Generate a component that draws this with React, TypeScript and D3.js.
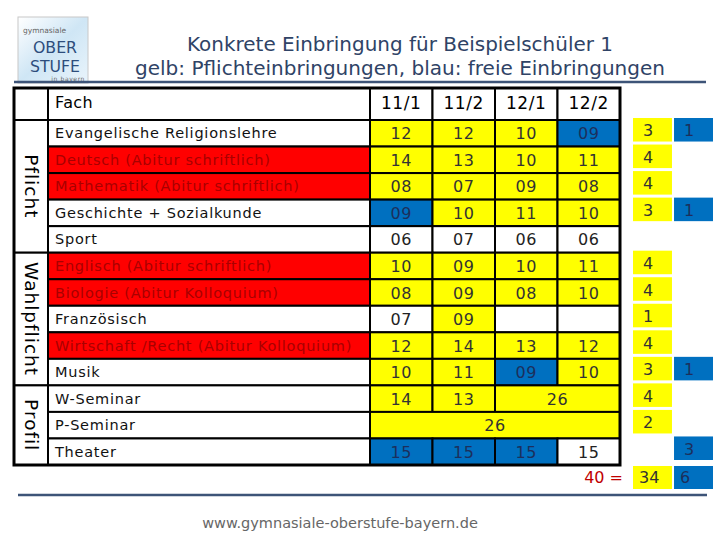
import React from "react";
import * as d3 from "d3";

// table data
const terms = ["11/1", "11/2", "12/1", "12/2"];
const subjects = [
  "Evangelische Religionslehre",
  "Deutsch (Abitur schriftlich)",
  "Mathematik (Abitur schriftlich)",
  "Geschichte + Sozialkunde",
  "Sport",
  "Englisch (Abitur schriftlich)",
  "Biologie (Abitur Kolloquium)",
  "Französisch",
  "Wirtschaft /Recht (Abitur Kolloquium)",
  "Musik",
  "W-Seminar",
  "P-Seminar",
  "Theater",
];
const groupNames = ["Pflicht", "Wahlpflicht", "Profil"];
const groupSizes = [5, 5, 3];
const abitur = [0, 1, 1, 0, 0, 1, 1, 0, 1, 0, 0, 0, 0];
const points = [
  ["12", "12", "10", "09"],
  ["14", "13", "10", "11"],
  ["08", "07", "09", "08"],
  ["09", "10", "11", "10"],
  ["06", "07", "06", "06"],
  ["10", "09", "10", "11"],
  ["08", "09", "08", "10"],
  ["07", "09", "", ""],
  ["12", "14", "13", "12"],
  ["10", "11", "09", "10"],
  ["14", "13", "26", ""],
  ["26", "", "", ""],
  ["15", "15", "15", "15"],
];
// Y = Pflichteinbringung, B = freie Einbringung, W = nicht eingebracht, - = verbunden mit links
const marks = ["YYYB", "YYYY", "YYYY", "BYYY", "WWWW", "YYYY", "YYYY", "WYWW", "YYYY", "YYBY", "YYY-", "Y---", "BBBW"];
const countYellow = [3, 4, 4, 3, null, 4, 4, 1, 4, 3, 4, 2, null];
const countBlue = [1, null, null, 1, null, null, null, null, null, 1, null, null, 3];
const totalAll = 40;
const totalYellow = 34;
const totalBlue = 6;

const YELLOW = "#ffff00";
const BLUE = "#0070c0";
const RED = "#ff0000";
const FONT = "'DejaVu Sans', Verdana, sans-serif";

export default function App() {
  const W = 720, H = 540;
  const left = 14, groupW = 34, top = 88, headH = 32;
  const rowY = d3.scaleBand<number>().domain(d3.range(subjects.length)).range([top + headH, 465]);
  const colX = d3.scaleBand<string>().domain(terms).range([370, 620]);
  const sideX = d3.scaleBand<string>().domain(["gelb", "blau"]).range([633, 713]).paddingInner(0.05);
  const rh = rowY.bandwidth();
  const cw = colX.bandwidth();

  const fillOf = (k: string) => (k === "Y" ? YELLOW : k === "B" ? BLUE : "#fff");
  const textOf = (k: string) => (k === "B" ? "#1c2f5c" : k === "Y" ? "#333" : "#222");

  const groupStarts = groupSizes.map((_, i) => d3.sum(groupSizes.slice(0, i)));

  return (
    <svg width={W} height={H} style={{ position: "absolute", left: 0, top: 0, background: "#fff" }} fontFamily={FONT}>
      {/* logo */}
      <defs>
        <linearGradient id="lg" x1="0" y1="0" x2="1" y2="1">
          <stop offset="0" stopColor="#ffffff" />
          <stop offset="0.5" stopColor="#cfe6f5" />
          <stop offset="1" stopColor="#e9f4fb" />
        </linearGradient>
      </defs>
      <rect x={18} y={17} width={70} height={66} fill="url(#lg)" stroke="#c8c8c8" />
      <text x={23} y={33} fontSize={7.5} fill="#666">gymnasiale</text>
      <text x={55} y={53} fontSize={16} fill="#2d4d7c" textAnchor="middle" textLength={44} lengthAdjust="spacingAndGlyphs">OBER</text>
      <text x={55} y={72} fontSize={16} fill="#2d4d7c" textAnchor="middle" textLength={50} lengthAdjust="spacingAndGlyphs">STUFE</text>
      <text x={85} y={81} fontSize={6} fill="#666" textAnchor="end" letterSpacing={0.6}>in bayern</text>

      {/* title */}
      <text x={400} y={51} fontSize={19} fill="#2f4366" textAnchor="middle" textLength={426} lengthAdjust="spacingAndGlyphs">Konkrete Einbringung für Beispielschüler 1</text>
      <text x={400} y={75} fontSize={19} fill="#2f4366" textAnchor="middle" textLength={530} lengthAdjust="spacingAndGlyphs">gelb: Pflichteinbringungen, blau: freie Einbringungen</text>
      <line x1={14} x2={706} y1={82} y2={82} stroke="#3d5478" strokeWidth={2.5} />

      {/* header row */}
      <rect x={left} y={top} width={groupW} height={headH} fill="#fff" stroke="#000" strokeWidth={2} />
      <rect x={left + groupW} y={top} width={370 - left - groupW} height={headH} fill="#fff" stroke="#000" strokeWidth={2} />
      <text x={55} y={top + 20} fontSize={16} fill="#000" letterSpacing={0.4}>Fach</text>
      {terms.map((t) => (
        <g key={t}>
          <rect x={colX(t)} y={top} width={cw} height={headH} fill="#fff" stroke="#000" strokeWidth={2} />
          <text x={colX(t)! + cw / 2} y={top + 21} fontSize={17} fill="#000" textAnchor="middle" letterSpacing={0.6}>{t}</text>
        </g>
      ))}

      {/* group labels */}
      {groupNames.map((g, i) => {
        const y0 = rowY(groupStarts[i])!;
        const y1 = rowY(groupStarts[i] + groupSizes[i] - 1)! + rh;
        const cy = (y0 + y1) / 2;
        return (
          <g key={g}>
            <rect x={left} y={y0} width={groupW} height={y1 - y0} fill="#fff" stroke="#000" strokeWidth={2} />
            <text x={left + groupW / 2} y={cy} fontSize={18.5} fill="#000" textAnchor="middle" dominantBaseline="central"
              letterSpacing={1} transform={`rotate(90 ${left + groupW / 2} ${cy})`}>{g}</text>
          </g>
        );
      })}

      {/* rows */}
      {subjects.map((s, r) => {
        const y = rowY(r)!;
        const red = abitur[r] === 1;
        const m = marks[r];
        return (
          <g key={s}>
            <rect x={left + groupW} y={y} width={370 - left - groupW} height={rh} fill={red ? RED : "#fff"} stroke="#000" strokeWidth={2} />
            <text x={55} y={y + rh / 2 + 5} fontSize={14.5} letterSpacing={0.75} fill={red ? "#a80000" : "#111"}>{s}</text>
            {terms.map((t, c) => {
              const k = m[c];
              if (k === "-") return null;
              let span = 1;
              while (m[c + span] === "-") span++;
              const x = colX(t)!;
              const w = cw * span;
              return (
                <g key={t}>
                  <rect x={x} y={y} width={w} height={rh} fill={fillOf(k)} stroke="#000" strokeWidth={2} />
                  {points[r][c] && (
                    <text x={x + w / 2} y={y + rh / 2 + 6} fontSize={16} fill={textOf(k)} textAnchor="middle" letterSpacing={0.5}>{points[r][c]}</text>
                  )}
                </g>
              );
            })}
            {countYellow[r] != null && (
              <g>
                <rect x={sideX("gelb")} y={y - 2} width={sideX.bandwidth()} height={rh - 3} fill={YELLOW} />
                <text x={sideX("gelb")! + 10} y={y + rh / 2 + 3} fontSize={16} fill="#333">{countYellow[r]}</text>
              </g>
            )}
            {countBlue[r] != null && (
              <g>
                <rect x={sideX("blau")} y={y - 2} width={sideX.bandwidth()} height={rh - 3} fill={BLUE} />
                <text x={sideX("blau")! + 10} y={y + rh / 2 + 3} fontSize={16} fill="#1c2f5c">{countBlue[r]}</text>
              </g>
            )}
          </g>
        );
      })}
      <rect x={left} y={top} width={620 - left} height={465 - top} fill="none" stroke="#000" strokeWidth={3} />

      {/* totals */}
      <text x={623} y={483} fontSize={16} fill="#c00000" textAnchor="end">{totalAll} =</text>
      <rect x={sideX("gelb")} y={466} width={sideX.bandwidth()} height={23} fill={YELLOW} />
      <text x={sideX("gelb")! + 6} y={483} fontSize={16} fill="#333">{totalYellow}</text>
      <rect x={sideX("blau")} y={466} width={sideX.bandwidth()} height={23} fill={BLUE} />
      <text x={sideX("blau")! + 6} y={483} fontSize={16} fill="#1c2f5c">{totalBlue}</text>

      {/* footer */}
      <line x1={18} x2={707} y1={495} y2={495} stroke="#3d5478" strokeWidth={2.5} />
      <text x={340} y={528} fontSize={14.5} fill="#666" textAnchor="middle">www.gymnasiale-oberstufe-bayern.de</text>
    </svg>
  );
}
